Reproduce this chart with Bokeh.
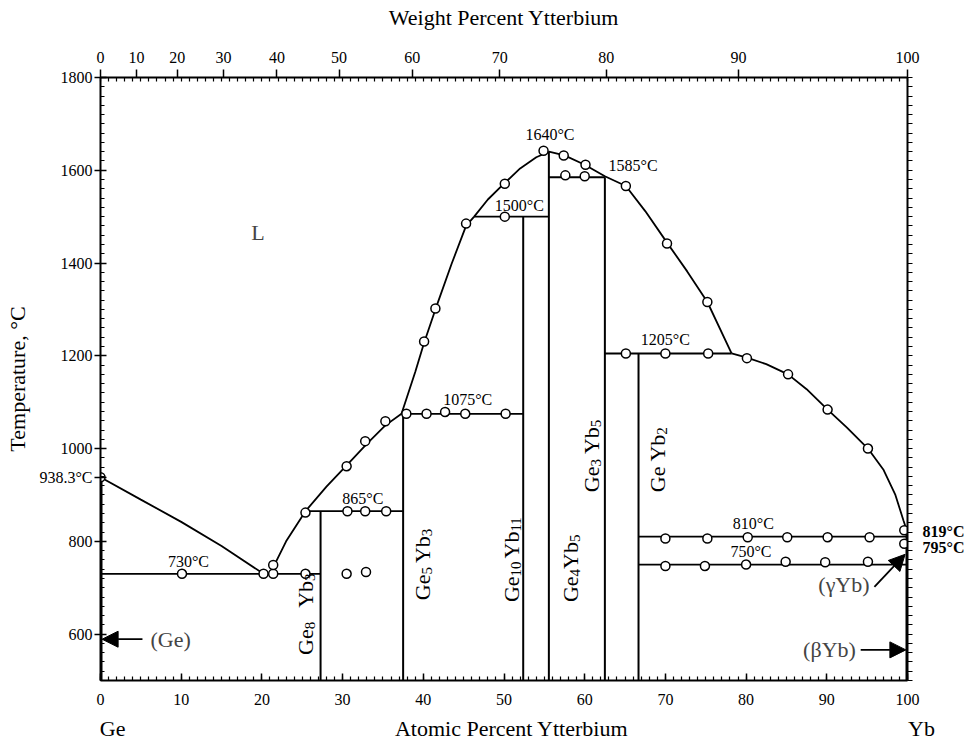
import numpy as np
from bokeh.plotting import figure
from bokeh.models import LinearAxis, FixedTicker, Label, Arrow, NormalHead
from bokeh.core.properties import value
from bokeh.embed import file_html
from bokeh.resources import INLINE

FONT = "Liberation Serif"
NB = "\u00a0"

# ---------------- data (x: atomic % Yb, T: temperature in °C) ----------------
liq_ge_x = [0, 5, 10, 15, 20.2]
liq_ge_T = [938.3, 890, 842, 790, 730]
liq_a_x = [21.0, 23.0, 25.4]
liq_a_T = [730, 800, 865]
liq_b_x = [25.4, 28.0, 30.5, 33.0, 35.3, 37.3]
liq_b_T = [865, 918, 964, 1010, 1050, 1075]
liq_c_x = [37.3, 39.0, 40.1, 41.5, 43.5, 45.3, 46.3]
liq_c_T = [1075, 1165, 1228, 1300, 1398, 1480, 1500]
liq_d_x = [46.3, 48.0, 50.0, 52.0, 54.0, 55.56]
liq_d_T = [1500, 1537, 1571, 1604, 1628, 1640]
liq_e_x = [55.56, 57.5, 60.0, 62.5, 65.1, 67.5, 70.2, 72.7, 75.2, 78.2]
liq_e_T = [1640, 1632, 1612, 1587, 1566, 1512, 1444, 1382, 1316, 1205]
liq_f_x = [78.2, 80.1, 82.5, 85.2, 87.5, 90.1, 92.5, 95.1, 97.0, 98.5, 99.5, 100]
liq_f_T = [1205, 1196, 1182, 1160, 1128, 1084, 1045, 1000, 955, 900, 845, 819]

iso_T = [730, 865, 1075, 1500, 1585, 1205, 810, 750]
iso_x0 = [0, 25.4, 37.3, 46.3, 55.56, 62.5, 66.67, 66.67]
iso_x1 = [27.27, 37.5, 52.38, 55.56, 62.5, 78.2, 100, 100]

comp_x = [27.27, 37.5, 52.38, 55.56, 62.5, 66.67]
comp_top = [865, 1075, 1500, 1640, 1585, 1205]
term_x = [0, 100]
term_top = [938.3, 819]

pts_x = [0, 10.1, 20.2, 21.4, 25.4, 21.4, 30.5, 32.9,
         25.4, 30.6, 32.8, 35.4, 30.5, 32.8, 35.3,
         37.9, 40.4, 42.7, 45.2, 50.2,
         40.1, 41.5, 45.3, 50.1, 54.9, 50.1,
         57.4, 60.1, 57.6, 60.0, 65.1, 70.2, 75.2,
         65.1, 70.0, 75.3, 80.1, 85.2, 90.1, 95.1, 99.6,
         70.0, 75.2, 80.2, 85.1, 90.1, 95.3,
         70.0, 74.9, 80.0, 84.9, 89.8, 95.1, 99.6]
pts_T = [938.3, 730, 730, 730, 730, 749, 730, 734,
         862, 865, 865, 865, 962, 1016, 1059,
         1075, 1075, 1079, 1075, 1075,
         1231, 1302, 1485, 1571, 1642, 1500,
         1632, 1612, 1589, 1587, 1566, 1442, 1316,
         1205, 1205, 1205, 1195, 1160, 1084, 1000, 824,
         806, 806, 809, 809, 809, 809,
         747, 747, 750, 756, 755, 756, 795]

temp_labels = ["1640°C", "1585°C", "1500°C", "1205°C", "1075°C", "865°C", "730°C", "810°C", "750°C"]
temp_x = [55.7, 66.0, 51.9, 70.0, 45.5, 32.5, 10.9, 80.9, 80.6]
temp_T = [1677, 1610, 1524, 1236, 1106, 892, 756, 839, 778]

# labelled end temperatures (right side: right-axis labels; left: extra left-axis label)
end_labels = ["819°C", "795°C"]
end_label_T = [822, 786]
ge_melt_label = "938.3°C"
ge_melt_T = 938.3

comp_parts = [("Ge", "8", "Yb", "3"), ("Ge", "5", "Yb", "3"), ("Ge", "10", "Yb", "11"),
              ("Ge", "4", "Yb", "5"), ("Ge", "3", "Yb", "5"), ("Ge", "", "Yb", "2")]
comp_lab_x = [25.4, 39.9, 50.9, 58.3, 60.9, 69.0]
comp_lab_T = [555, 673, 669, 669, 906, 906]
comp_gap = [14, 4, 3, 0, 5, 5]

phase_labels = ["L", "(Ge)", "(βYb)", "(γYb)"]
phase_x = [19.5, 6.2, 93.6, 95.3]
phase_T = [1466, 589, 566, 706]
phase_align = ["center", "left", "right", "right"]

arrows_x0 = [5.2, 94.2, 95.9]
arrows_T0 = [589, 566, 702]
arrows_x1 = [0.2, 99.8, 99.7]
arrows_T1 = [589, 566, 772]

weight_ticks = [0, 10, 20, 30, 40, 50, 60, 70, 80, 90, 100]
atomic_ticks = [0, 10, 20, 30, 40, 50, 60, 70, 80, 90, 100]
temp_ticks = [600, 800, 1000, 1200, 1400, 1600, 1800]
M_YB, M_GE = 173.04, 72.63

# ---------------- figure ----------------
p = figure(width=967, height=746, x_range=(0, 100), y_range=(500, 1800),
           output_backend="svg", toolbar_location=None,
           min_border_left=100, min_border_right=57, min_border_top=77, min_border_bottom=66,
           x_axis_location=None, y_axis_location=None)
p.grid.visible = False
p.outline_line_color = None
p.background_fill_color = "white"
p.border_fill_color = "white"

def style_axis(ax, fs="16px"):
    ax.axis_line_width = 2
    ax.axis_line_color = "black"
    ax.major_tick_line_width = 1.5
    ax.minor_tick_line_width = 1.2
    ax.major_label_text_font = FONT
    ax.major_label_text_font_size = fs
    ax.major_label_text_color = "black"
    ax.axis_label_text_font = FONT
    ax.axis_label_text_font_style = "normal"
    ax.axis_label_text_font_size = "22px"
    ax.axis_label_text_color = "black"

# bottom axis; its title carries the end-member names Ge and Yb at both ends
bottom_title = NB * 5 + "Ge" + NB * 49 + "Atomic Percent Ytterbium" + NB * 51 + "Yb"
bottom = LinearAxis(ticker=FixedTicker(ticks=atomic_ticks, minor_ticks=list(range(0, 101))),
                    axis_label=bottom_title)
style_axis(bottom)
bottom.major_tick_in = 7
bottom.major_tick_out = 0
bottom.minor_tick_in = 4
bottom.minor_tick_out = 0
bottom.major_label_standoff = 13
bottom.axis_label_standoff = 8
p.add_layout(bottom, "below")

def w2a(w):
    nw = w / M_YB
    ng = (100 - w) / M_GE
    return round(100 * nw / (nw + ng), 6)

top_pos = [w2a(w) for w in weight_ticks]
top = LinearAxis(ticker=FixedTicker(ticks=top_pos, minor_ticks=list(range(0, 101))),
                 axis_label="Weight Percent Ytterbium",
                 major_label_overrides={pos: str(w) for pos, w in zip(top_pos, weight_ticks)})
style_axis(top)
top.major_tick_in = 0
top.major_tick_out = 8
top.minor_tick_in = 4
top.minor_tick_out = 0
top.major_label_standoff = 7
top.axis_label_standoff = 19
p.add_layout(top, "above")

left = LinearAxis(ticker=FixedTicker(ticks=temp_ticks + [ge_melt_T],
                                     minor_ticks=list(range(500, 1801, 20))),
                  axis_label="Temperature, °C",
                  major_label_overrides={ge_melt_T: ge_melt_label})
style_axis(left)
left.major_tick_in = 6
left.major_tick_out = 6
left.minor_tick_in = 4
left.minor_tick_out = 0
left.major_label_standoff = 2
left.axis_label_standoff = 6
p.add_layout(left, "left")

right = LinearAxis(ticker=FixedTicker(ticks=end_label_T, minor_ticks=list(range(500, 1801, 20))),
                   major_label_overrides={t: s for t, s in zip(end_label_T, end_labels)})
style_axis(right)
right.major_tick_in = 0
right.major_tick_out = 0
right.minor_tick_in = 0
right.minor_tick_out = 5
right.major_label_standoff = 10
right.major_label_text_font_style = "bold"
p.add_layout(right, "right")

LW = 1.8
for xs, ts in [(liq_ge_x, liq_ge_T), (liq_a_x, liq_a_T), (liq_b_x, liq_b_T), (liq_c_x, liq_c_T),
               (liq_d_x, liq_d_T), (liq_e_x, liq_e_T), (liq_f_x, liq_f_T)]:
    p.line(xs, ts, line_color="black", line_width=LW)

p.segment(x0=iso_x0, y0=iso_T, x1=iso_x1, y1=iso_T, line_color="black", line_width=LW)
p.segment(x0=comp_x, y0=[500] * len(comp_x), x1=comp_x, y1=comp_top, line_color="black", line_width=2)
p.segment(x0=term_x, y0=[500] * len(term_x), x1=term_x, y1=term_top, line_color="black", line_width=4)

p.scatter(pts_x, pts_T, marker="circle", size=9, fill_color="white", line_color="black", line_width=1.5)

p.text(x=temp_x, y=temp_T, text=temp_labels, text_font=value(FONT), text_font_size="16px",
       text_align="center", text_baseline="middle", text_color="black")

for t, x, y, al in zip(phase_labels, phase_x, phase_T, phase_align):
    p.add_layout(Label(x=x, y=y, text=t, text_font=FONT, text_font_size="22px",
                       text_align=al, text_baseline="middle"))

# compound labels (vertical with subscripts)
CW = {"G": 0.722, "e": 0.444, "Y": 0.722, "b": 0.5}
MAIN_FS, SUB_FS = 22, 15
PX_PER_T = 603.0 / 1300.0
PX_PER_X = 810.0 / 100.0
mx, my, mt, sx, sy, st = [], [], [], [], [], []
for parts, bx, bT, gap in zip(comp_parts, comp_lab_x, comp_lab_T, comp_gap):
    cur = 0.0
    for i, piece in enumerate(parts):
        if piece == "":
            cur += gap
            continue
        sub = (i % 2 == 1)
        fs = SUB_FS if sub else MAIN_FS
        w = sum(CW.get(c, 0.5) for c in piece) * fs
        if sub:
            sx.append(bx + 4.5 / PX_PER_X); sy.append(bT + cur / PX_PER_T); st.append(piece)
        else:
            mx.append(bx); my.append(bT + cur / PX_PER_T); mt.append(piece)
        cur += w
        if i == 1:
            cur += gap
p.text(x=mx, y=my, text=mt, angle=np.pi / 2, text_font=value(FONT), text_font_size=f"{MAIN_FS}px",
       text_align="left", text_baseline="alphabetic", text_color="black")
p.text(x=sx, y=sy, text=st, angle=np.pi / 2, text_font=value(FONT), text_font_size=f"{SUB_FS}px",
       text_align="left", text_baseline="alphabetic", text_color="black")

for x0, y0, x1, y1 in zip(arrows_x0, arrows_T0, arrows_x1, arrows_T1):
    p.add_layout(Arrow(end=NormalHead(size=16, fill_color="black", line_color="black"),
                       x_start=x0, y_start=y0, x_end=x1, y_end=y1,
                       line_color="black", line_width=1.8))

open("out.html", "w").write(file_html(p, INLINE))
